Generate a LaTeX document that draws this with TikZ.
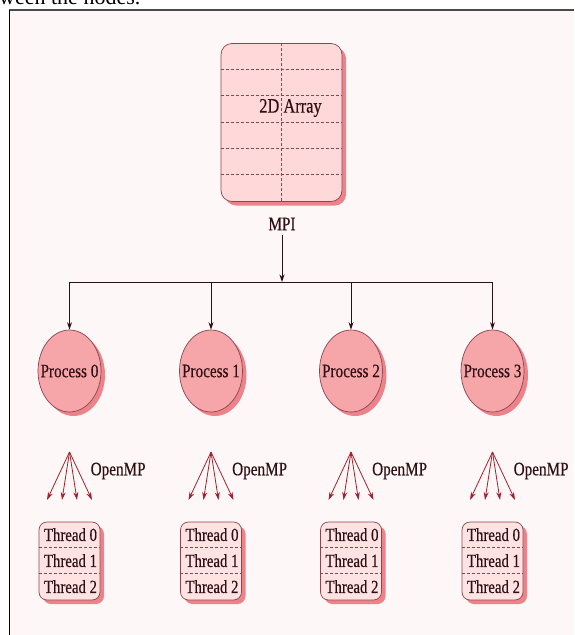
\documentclass[tikz,border=0pt]{standalone}
\usepackage{fontspec}
\setmainfont{Liberation Serif}[FakeStretch=0.8, FakeBold=0.4]
\newfontfamily\bodyserif{Liberation Serif}
\usetikzlibrary{shadows,arrows.meta,calc,shapes.geometric}

\definecolor{pagebg}{HTML}{FDF7F7}
\definecolor{framegray}{HTML}{4A4A4A}
\definecolor{inkdark}{HTML}{2E1014}
\definecolor{edgered}{HTML}{8A4550}
\definecolor{arrayfill}{HTML}{FFD9D9}
\definecolor{procfill}{HTML}{F6A6A9}
\definecolor{threadfill}{HTML}{FFE3E3}
\definecolor{shadowred}{HTML}{EE8289}
\definecolor{fanred}{HTML}{A3202E}

\begin{document}
\begin{tikzpicture}[x=1pt,y=-1pt,
  lbl/.style={inner sep=0pt, text=inkdark, font=\fontsize{19}{19}\selectfont},
  pinkshadow/.style={drop shadow={shadow xshift=4pt, shadow yshift=-4pt,
      fill=shadowred, opacity=1}},
  arraybox/.style={draw=edgered, line width=0.7pt, fill=arrayfill,
      rounded corners=11pt, minimum width=121pt, minimum height=158pt,
      inner sep=0pt, pinkshadow},
  procshape/.style={ellipse, draw=edgered, line width=0.7pt, fill=procfill,
      minimum width=63pt, minimum height=82pt, inner sep=0pt, pinkshadow},
  threadbox/.style={draw=edgered, line width=0.7pt, fill=threadfill,
      rounded corners=8pt, minimum width=61pt, minimum height=78pt,
      inner sep=0pt, pinkshadow},
  sepdash/.style={draw=edgered, line width=0.7pt, dash pattern=on 3pt off 2pt},
  link/.style={draw=inkdark, line width=0.9pt},
  linkarrow/.style={link, -{Stealth[length=7.5pt,width=5pt]}},
  fanarrow/.style={draw=fanred, line width=0.8pt, -{Stealth[length=8pt,width=5pt]}}
]
\useasboundingbox (0,0) rectangle (574,635);

% page and frame
\fill[white] (0,0) rectangle (574,635);
\fill[pagebg] (9.5,10) rectangle (574,635);
\draw[framegray, line width=2pt] (9,10) -- (574,10);
\draw[black, line width=1pt] (9.5,10) -- (9.5,635);

% running text above the frame
\node[anchor=base west, inner sep=0pt, text=black,
      font=\bodyserif\fontsize{22}{22}\selectfont] (caption) at (-1,4.5) {ween the nodes.};

% the distributed array
\node[arraybox] (array) at (281.5,122.5) {};
\foreach \k in {1,...,5}
  \draw[sepdash] ($(array.north west)+(0,\k*26.33)$) -- ($(array.north east)+(0,\k*26.33)$);
\draw[sepdash] (array.north) -- (array.south);
\node[lbl, font=\fontsize{20.5}{20.5}\selectfont] (arraytext) at (290.5,108) {2D Array};

% MPI distribution bus
\node[lbl] (mpi) at (282,224) {MPI};
\coordinate (bus) at (282,282);
\coordinate (busleft) at (69.5,282);
\coordinate (busright) at (492.5,282);
\draw[linkarrow] (mpi.south) ++(0,5) -- (bus);
\draw[link] (busleft) -- (busright);

\foreach \i/\x in {0/69.5,1/211,2/351,3/492.5}{
  % process
  \node[procshape, label={[lbl]center:Process \i}] (p\i) at (\x,371) {};
  \draw[linkarrow] (p\i |- bus) -- (p\i.north);
  % OpenMP fork
  \coordinate (apex\i) at (\x,452);
  \foreach \d in {-22.5,-7.5,7.5,22.5}
    \draw[fanarrow] (apex\i) -- ($(apex\i)+(\d,48)$);
  \node[lbl, anchor=west] (omp\i) at (\x+21,471) {OpenMP};
  % threads
  \node[threadbox] (t\i) at (\x,561) {};
  \draw[sepdash] ($(t\i.north west)+(0,26)$) -- ($(t\i.north east)+(0,26)$);
  \draw[sepdash] ($(t\i.north west)+(0,52)$) -- ($(t\i.north east)+(0,52)$);
  \node[lbl, font=\fontsize{18.5}{18.5}\selectfont] (t\i a) at ($(t\i.north)+(1,13)$) {Thread 0};
  \node[lbl, font=\fontsize{18.5}{18.5}\selectfont] (t\i b) at ($(t\i.north)+(1,39)$) {Thread 1};
  \node[lbl, font=\fontsize{18.5}{18.5}\selectfont] (t\i c) at ($(t\i.north)+(1,65)$) {Thread 2};
}
\end{tikzpicture}
\end{document}
